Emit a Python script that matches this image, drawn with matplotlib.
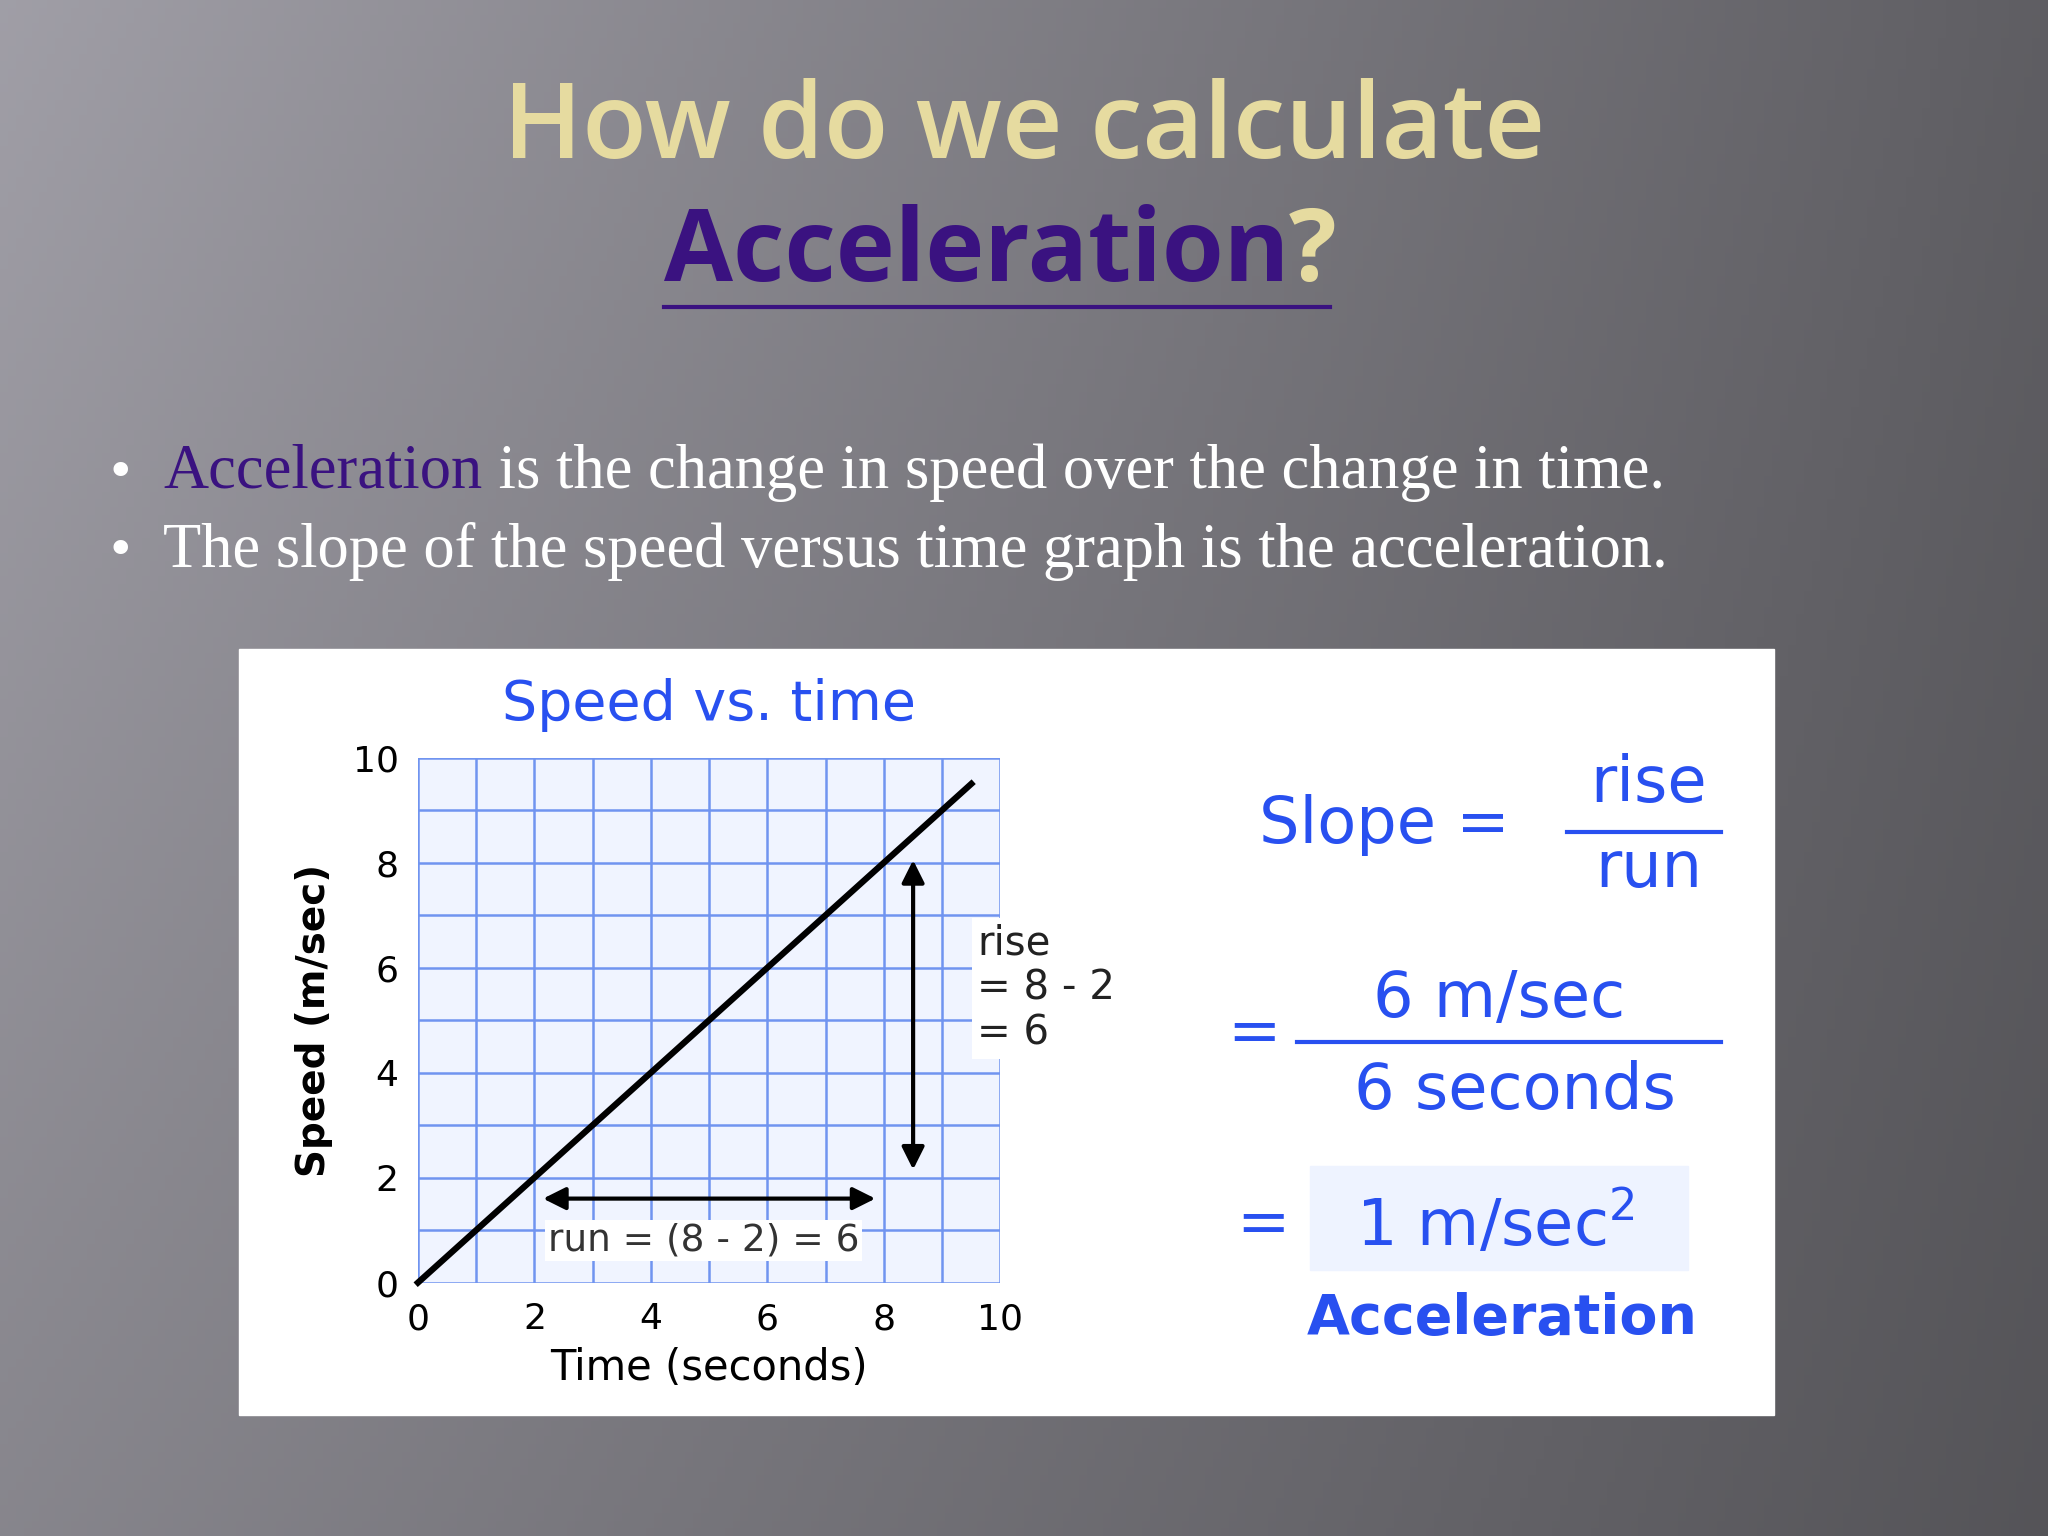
import matplotlib
matplotlib.use("Agg")
import matplotlib.pyplot as plt
import numpy as np
from matplotlib.patches import Rectangle

W, H = 1568, 1176
def fx(x): return x / W
def fy(y): return 1 - y / H

time_ticks = [0, 2, 4, 6, 8, 10]
speed_ticks = [0, 2, 4, 6, 8, 10]
line_time = [0, 9.5]
line_speed = [0, 9.5]
rise_x, rise_from, rise_to = 8.5, 2.1, 8.1
run_y, run_from, run_to = 1.6, 2.1, 7.9

fig = plt.figure(figsize=(20.48, 15.36), dpi=100)
bg = fig.add_axes([0, 0, 1, 1])
yy, xx = np.mgrid[0:1:200j, 0:1:260j]
grad = 0.58 - 0.20 * xx + 0.06 * (1 - yy) * (1 - xx) - 0.04 * yy
bg.imshow(np.dstack([grad * 0.98, grad * 0.97, grad * 1.02]).clip(0, 1), aspect='auto', extent=[0, 1, 0, 1])
bg.axis('off')
bg.set_xlim(0, 1); bg.set_ylim(0, 1)

def chain(first, after_list):
    prev = first
    for (txt, kw) in after_list:
        prev = bg.annotate(txt, xy=(1, 0.5), xycoords=prev, va='center', ha='left', **kw)
    return prev

gold = '#e6dba0'
purple = '#3a1280'
fig.text(fx(784), fy(100), 'How do we calculate', ha='center', va='center', fontsize=76, color=gold,
         family='Open Sans', weight='semibold')
t = fig.text(fx(508), fy(195), 'Acceleration', ha='left', va='center', fontsize=72, color=purple,
             family='Open Sans', weight='bold')
chain(t, [('?', dict(fontsize=72, color=gold, family='Open Sans', weight='bold'))])
bg.plot([fx(508), fx(1018)], [fy(235), fy(235)], color=purple, lw=3)

serif = 'Liberation Serif'
fs = 45
fig.text(fx(92), fy(362), '•', ha='center', va='center', fontsize=36, color='white')
fig.text(fx(92), fy(422), '•', ha='center', va='center', fontsize=36, color='white')
a = fig.text(fx(125), fy(362), 'Acceleration', ha='left', va='center', fontsize=fs, color=purple, family=serif)
chain(a, [(' is the change in speed over the change in time.', dict(fontsize=fs, color='white', family=serif))])
fig.text(fx(125), fy(422), 'The slope of the speed versus time graph is the acceleration.', ha='left', va='center',
         fontsize=fs, color='white', family=serif)

bg.add_patch(Rectangle((fx(183), fy(1083)), fx(1358) - fx(183), fy(497) - fy(1083), color='white', zorder=2))

ax = fig.add_axes([fx(320), fy(982), fx(766) - fx(320), fy(580) - fy(982)])
ax.set_facecolor('#f0f4ff')
ax.set_xlim(0, 10); ax.set_ylim(0, 10)
for v in range(11):
    ax.axvline(v, color='#7094f0', lw=1.8)
    ax.axhline(v, color='#7094f0', lw=1.8)
for s in ax.spines.values(): s.set_visible(False)
ax.set_xticks(time_ticks); ax.set_yticks(speed_ticks)
ax.tick_params(length=0, labelsize=26, pad=14)
ax.plot(line_time, line_speed, color='black', lw=4.5, clip_on=False, zorder=5)
ax.annotate('', xy=(rise_x, rise_to), xytext=(rise_x, rise_from),
            arrowprops=dict(arrowstyle='<|-|>', color='black', lw=3, mutation_scale=34))
ax.annotate('', xy=(run_to, run_y), xytext=(run_from, run_y),
            arrowprops=dict(arrowstyle='<|-|>', color='black', lw=3, mutation_scale=34))
ax.text(4.9, 0.8, 'run = (8 - 2) = 6', ha='center', va='center', fontsize=27, color='#333333',
        bbox=dict(fc='white', ec='none', pad=2))
ax.text(9.6, 5.6, 'rise\n= 8 - 2\n= 6', ha='left', va='center', fontsize=29, color='#222222',
        linespacing=1.15, bbox=dict(fc='white', ec='none', pad=4), clip_on=False)
ax.set_xlabel('Time (seconds)', fontsize=30, labelpad=8)
ax.set_ylabel('Speed (m/sec)', fontsize=28, labelpad=14, weight='bold')

blue = '#2850f0'
fig.text(fx(543), fy(540), 'Speed vs. time', ha='center', va='center', fontsize=40, color=blue)
fig.text(fx(1060), fy(632), 'Slope =', ha='center', va='center', fontsize=46, color=blue)
fig.text(fx(1262), fy(600), 'rise', ha='center', va='center', fontsize=46, color=blue)
fig.text(fx(1262), fy(665), 'run', ha='center', va='center', fontsize=46, color=blue)
bg.plot([fx(1200), fx(1318)], [fy(637), fy(637)], color=blue, lw=3, zorder=3)
fig.text(fx(960), fy(792), '=', ha='center', va='center', fontsize=46, color=blue)
fig.text(fx(1148), fy(765), '6 m/sec', ha='center', va='center', fontsize=46, color=blue)
bg.plot([fx(993), fx(1318)], [fy(798), fy(798)], color=blue, lw=3, zorder=3)
fig.text(fx(1160), fy(835), '6 seconds', ha='center', va='center', fontsize=46, color=blue)
bg.add_patch(Rectangle((fx(1003), fy(972)), fx(1292) - fx(1003), fy(893) - fy(972), color='#eef3ff', zorder=3))
fig.text(fx(967), fy(938), '=', ha='center', va='center', fontsize=46, color=blue)
fig.text(fx(1145), fy(938), '1 m/sec$^2$', ha='center', va='center', fontsize=46, color=blue)
fig.text(fx(1150), fy(1010), 'Acceleration', ha='center', va='center', fontsize=40, color=blue, weight='bold')

fig.savefig('out.png', dpi=100)
